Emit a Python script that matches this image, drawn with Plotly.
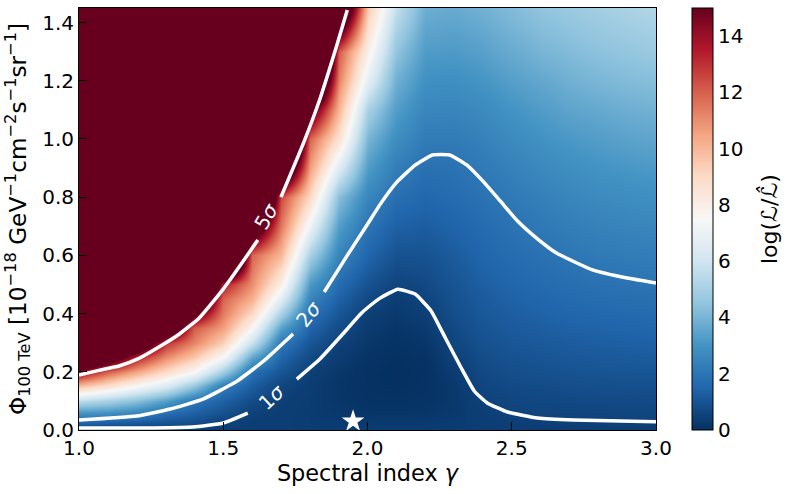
import numpy as np
import plotly.graph_objects as go

# grid, z is log(L/Lhat), clipped by the colour range above 15
gamma = [1.0, 1.1, 1.2, 1.3, 1.4, 1.5, 1.6, 1.7, 1.8, 1.9, 2.0,
         2.1, 2.2, 2.3, 2.4, 2.5, 2.6, 2.7, 2.8, 2.9, 3.0]
phi = [0, .03, .06, .1, .15, .2, .25, .3, .35, .4, .45, .5, .6, .7, .8, .9, 1.0, 1.1, 1.2, 1.3, 1.45]

z_by_gamma = [
    [.35, 1.75, 3.0, 5.5, 9.8, 14.2, 20, 26] + [30] * 13,
    [.35, 1.5, 2.9, 5, 8.7, 12, 17, 21] + [30] * 13,
    [.35, 1.3, 2.5, 4.3, 7.5, 10.4, 13.5, 18] + [30] * 13,
    [.35, 1.1, 1.75, 3.3, 6.4, 8.9, 11.1, 13, 18, 23] + [30] * 11,
    [.35, .9, 1.35, 2, 4.6, 7.5, 9.6, 11.2, 12.1, 15.5, 20, 25] + [30] * 9,
    [.35, .55, .9, 1.35, 2.2, 4.9, 7.5, 9.3, 10.6, 11.4, 11.9, 13.6, 27] + [30] * 8,
    [.35, .4, .47, .75, 1.25, 1.8, 3.6, 5.8, 7.6, 9, 10.2, 11, 11.9, 18, 27] + [30] * 6,
    [.35, .36, .38, .43, .58, 1, 1.5, 2.1, 3.4, 5, 6.6, 8, 10, 11.5, 12.5, 20, 27] + [30] * 4,
    [.35, .33, .32, .32, .35, .45, .7, 1.05, 1.45, 1.85, 2.5, 3.2, 5, 7.1, 9, 10.6, 11.9, 16, 23, 30, 30],
    [.35, .28, .22, .18, .15, .2, .33, .47, .75, 1.05, 1.35, 1.7, 2.5, 3.3, 4.3, 6.5, 8.6, 10, 11.2, 12.1, 20],
    [.35, .25, .15, .08, .04, .04, .1, .2, .3, .42, .67, .95, 1.5, 1.95, 2.55, 3.25, 4, 5, 6.7, 7.9, 9.5],
    [.35, .24, .14, .06, .01, 0, .02, .07, .14, .25, .38, .55, .95, 1.35, 1.8, 2.25, 2.8, 3.3, 3.85, 4.5, 5.7],
    [.35, .25, .17, .1, .06, .05, .08, .17, .28, .42, .55, .7, .95, 1.25, 1.55, 1.85, 2.2, 2.55, 2.9, 3.25, 3.8],
    [.35, .3, .25, .22, .24, .33, .47, .58, .7, .82, .91, 1, 1.2, 1.45, 1.7, 1.9, 2.2, 2.5, 2.85, 3.2, 3.7],
    [.35, .38, .42, .49, .6, .7, .8, .92, 1.01, 1.1, 1.2, 1.3, 1.5, 1.7, 1.9, 2.15, 2.4, 2.7, 3.05, 3.4, 3.9],
    [.35, .43, .51, .6, .72, .83, .95, 1.05, 1.17, 1.28, 1.39, 1.5, 1.72, 1.92, 2.15, 2.4, 2.7, 3, 3.35, 3.7, 4.2],
    [.35, .46, .55, .65, .77, .9, 1.02, 1.14, 1.27, 1.4, 1.53, 1.65, 1.88, 2.12, 2.35, 2.65, 2.95, 3.25, 3.6, 4, 4.5],
    [.35, .48, .57, .68, .82, .95, 1.08, 1.22, 1.36, 1.5, 1.64, 1.77, 2.03, 2.28, 2.55, 2.85, 3.15, 3.5, 3.85, 4.2, 4.7],
    [.35, .49, .58, .7, .85, 1, 1.13, 1.27, 1.42, 1.57, 1.72, 1.87, 2.15, 2.42, 2.7, 3, 3.3, 3.65, 4.05, 4.4, 4.9],
    [.35, .5, .6, .72, .87, 1.02, 1.17, 1.32, 1.47, 1.62, 1.78, 1.93, 2.22, 2.5, 2.8, 3.1, 3.45, 3.8, 4.2, 4.55, 5.1],
    [.35, .51, .61, .73, .88, 1.04, 1.2, 1.36, 1.52, 1.67, 1.83, 1.98, 2.28, 2.58, 2.88, 3.2, 3.55, 3.9, 4.3, 4.7, 5.3],
]

# contour lines, None leaves the gap for the inline label
sigma1_x = [1.0, 1.257, 1.395, 1.5, 1.585, None, 1.755, 1.835, 1.93, 1.975, 2.0, 2.045, 2.105,
            2.165, 2.22, 2.27, 2.325, 2.37, 2.415, 2.485, 2.59, 2.715, 3.0]
sigma1_y = [.007, .007, .01, .024, .058, None, .175, .244, .347, .398, .42, .454, .484,
            .467, .41, .316, .213, .134, .093, .062, .041, .034, .028]
sigma2_x = [1.0, 1.2, 1.316, 1.43, 1.548, 1.64, 1.742, None, 1.85, 1.93, 2.0, 2.045, 2.10, 2.165,
            2.225, 2.285, 2.345, 2.40, 2.46, 2.52, 2.59, 2.655, 2.78, 2.90, 3.0]
sigma2_y = [.034, .048, .072, .106, .168, .237, .33, None, .474, .60, .707, .777, .85, .91,
            .945, .945, .91, .855, .787, .718, .656, .608, .55, .522, .505]
sigma5_x = [1.0, 1.069, 1.139, 1.208, 1.277, 1.347, 1.416, 1.5, 1.558, 1.62, None,
            1.70, 1.777, 1.836, 1.895, 1.93]
sigma5_y = [.189, .205, .22, .246, .285, .329, .384, .484, .564, .653, None,
            .80, .983, 1.14, 1.326, 1.443]

best_fit_gamma = [1.95]
best_fit_phi = [.03]

rdbu_r = ["#053061", "#2166ac", "#4393c3", "#92c5de", "#d1e5f0", "#f7f7f7",
          "#fddbc7", "#f4a582", "#d6604d", "#b2182b", "#67001f"]
colorscale = [[i / 10, c] for i, c in enumerate(rdbu_r)]

FONT = "DejaVu Sans"
W, H = 789, 494
L, R, T, B = 79, 656, 8, 430

fig = go.Figure()
fig.add_trace(go.Heatmap(
    x=gamma, y=phi, z=np.array(z_by_gamma).T,
    zmin=0, zmax=15, zsmooth="best", colorscale=colorscale, hoverinfo="skip",
    colorbar=dict(
        thickness=20.5, thicknessmode="pixels", len=B - T, lenmode="pixels",
        x=(692 - L) / (R - L), xanchor="left", xpad=0, y=0.5, yanchor="middle", ypad=0,
        outlinecolor="black", outlinewidth=1, ticks="", tick0=0, dtick=2,
        tickfont=dict(family=FONT, size=20, color="black"),
    ),
))

for xs, ys in [(sigma1_x, sigma1_y), (sigma2_x, sigma2_y), (sigma5_x, sigma5_y)]:
    fig.add_trace(go.Scatter(x=xs, y=ys, mode="lines", showlegend=False, hoverinfo="skip",
                             line=dict(color="white", width=3.5, shape="spline", smoothing=0.4)))

fig.add_trace(go.Scatter(x=best_fit_gamma, y=best_fit_phi, mode="markers", showlegend=False,
                         marker=dict(symbol="star", size=17, color="white", line=dict(width=0))))

# inline contour labels
for text, x, y, angle in [("1<i>σ</i>", 1.667, .115, -43), ("2<i>σ</i>", 1.795, .40, -52),
                          ("5<i>σ</i>", 1.65, .735, -60)]:
    fig.add_annotation(x=x, y=y, text=text, textangle=angle, showarrow=False,
                       font=dict(family=FONT, size=20, color="white"))

fig.add_annotation(xref="paper", yref="paper", x=(769 - L) / (R - L), y=0.5, xanchor="center", yanchor="middle",
                   text="log(<i>ℒ</i>/<i>ℒ̂</i>)", textangle=-90, showarrow=False,
                   font=dict(family=FONT, size=22, color="black"))

axis_style = dict(showline=True, linecolor="black", linewidth=1, mirror=True, ticks="inside",
                  ticklen=8, tickwidth=1, tickcolor="black", showgrid=False, zeroline=False,
                  tickfont=dict(family=FONT, size=20, color="black"), layer="above traces")

fig.update_layout(
    width=W, height=H, margin=dict(l=L, r=W - R, t=T, b=H - B),
    paper_bgcolor="white", plot_bgcolor="white", showlegend=False,
    xaxis=dict(range=[1.0, 3.0], tickvals=[1.0, 1.5, 2.0, 2.5, 3.0], ticktext=["1.0", "1.5", "2.0", "2.5", "3.0"],
               title=dict(text="Spectral index <i>γ</i>", font=dict(family=FONT, size=22.4, color="black"), standoff=4),
               **axis_style),
    yaxis=dict(range=[0, 1.45], tickvals=[0, .2, .4, .6, .8, 1.0, 1.2, 1.4],
               ticktext=["0.0", "0.2", "0.4", "0.6", "0.8", "1.0", "1.2", "1.4"],
               title=dict(text="Φ<sub>100 TeV</sub> [10<sup>−18</sup> GeV<sup>−1</sup>cm<sup>−2</sup>s<sup>−1</sup>sr<sup>−1</sup>]",
                          font=dict(family=FONT, size=23.2, color="black"), standoff=9),
               **axis_style),
)

# the page's default body margin would shift everything by 8px
fig.write_html("out.html", config=dict(displayModeBar=False), post_script="document.body.style.margin='0';")
